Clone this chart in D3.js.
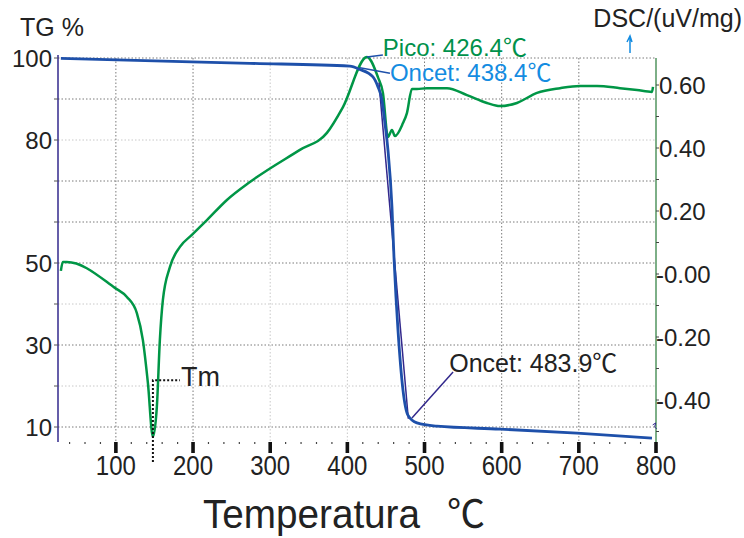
<!DOCTYPE html>
<html>
<head>
<meta charset="utf-8">
<script src="https://cdn.jsdelivr.net/npm/d3@7"></script>
<style>
  body { margin: 0; background: #fff; }
  svg { display: block; font-family: "Liberation Sans", Arial, sans-serif; }
</style>
</head>
<body>
<div class="usable"></div>
<script>
// ticks del eje x
const ticksTemp = [100, 200, 300, 400, 500, 600, 700, 800]
const ticksTG = [100, 80, 50, 30, 10]
const ticksDSC = [0.6, 0.4, 0.2, 0, -0.2, -0.4]
const etiquetasDSC = ["0.60", "0.40", "0.20", "-0.00", "-0.20", "-0.40"]

// curva TG (masa %)
const tgTemp = [28.7, 150, 273.7, 403.3, 416.3, 433.2, 439.6, 444.8, 448.7, 452.6, 457.8, 460.4, 463.0, 465.6, 472.1, 478.5, 490.2, 516.1, 597.8, 697.6, 794.8]
const tgValor = [99.9, 99.3, 98.7, 98.0, 97.2, 95.4, 93.0, 89.8, 84.1, 77.6, 63.7, 51.5, 41.7, 33.7, 19.0, 12.9, 11.0, 10.2, 9.5, 8.5, 7.3]

// curva DSC (uV/mg)
const dscTemp = [28.7, 31.3, 36.5, 98.7, 114.3, 127.2, 135.0, 141.5, 148.0, 153.1, 157.0, 160.9, 170.0, 183.0, 198.5, 218.0, 243.9, 273.7, 338.5, 373.5, 394.3, 425.4, 439.6, 446.1, 452.6, 457.8, 461.7, 472.1, 477.2, 483.7, 490.2, 503.2, 529.1, 555.0, 580.9, 597.8, 619.8, 645.8, 675.6, 701.5, 723.5, 753.4, 775.4, 794.8, 796.1]
const dscValor = [0.010, 0.038, 0.038, -0.044, -0.073, -0.124, -0.210, -0.346, -0.517, -0.422, -0.210, -0.083, 0.022, 0.086, 0.124, 0.171, 0.235, 0.292, 0.394, 0.448, 0.530, 0.689, 0.625, 0.575, 0.435, 0.457, 0.438, 0.479, 0.511, 0.587, 0.587, 0.590, 0.590, 0.568, 0.543, 0.533, 0.543, 0.575, 0.590, 0.597, 0.597, 0.590, 0.584, 0.578, 0.594]

// tangente del onset
const tangTemp = [441, 479]
const tangValor = [94, 12]

const width = 744,
  height = 538;

const verde = "rgb(0,150,70)"
const azul = "rgb(30,80,170)"
const celeste = "rgb(20,140,225)"
const navy = "rgb(50,40,140)"
const fuenteGrado = "'Noto Sans CJK SC', 'Noto Sans CJK JP', sans-serif"

let svg = d3.select(".usable").append("svg")
  .attr("width", width)
  .attr("height", height)

let x = d3.scaleLinear().domain([25, 800]).range([58, 656])
let yTG = d3.scaleLinear().domain([10, 100]).range([427, 58])
let yDSC = d3.scaleLinear().domain([-0.4, 0.6]).range([400, 85])

const arriba = 58, abajo = 441

// texto con el simbolo ℃ en fuente CJK
function textoGrado(xx, yy, txt, tam, color) {
  let t = svg.append("text").attr("x", xx).attr("y", yy)
    .attr("font-size", tam).attr("fill", color)
  t.append("tspan").text(txt)
  t.append("tspan").attr("font-family", fuenteGrado).text("℃")
  return t
}

// grilla horizontal (cada 10 %)
let grilla = svg.append("g")
d3.range(10, 101, 10).forEach(function (v) {
  let clara = (v == 20 || v == 40 || v == 80)
  grilla.append("line")
    .attr("x1", x(25)).attr("x2", x(800))
    .attr("y1", yTG(v)).attr("y2", yTG(v))
    .attr("stroke", clara ? "#c8c8c8" : "#7a7a7a")
    .attr("stroke-width", 1)
    .attr("stroke-dasharray", "1.5,2")
})
// grilla vertical
ticksTemp.slice(0, 7).forEach(function (t) {
  let clara = (t == 300 || t == 400)
  grilla.append("line")
    .attr("x1", x(t)).attr("x2", x(t))
    .attr("y1", arriba).attr("y2", abajo)
    .attr("stroke", clara ? "#c8c8c8" : "#7a7a7a")
    .attr("stroke-width", 1)
    .attr("stroke-dasharray", "1.5,2")
})

// eje izquierdo
svg.append("line")
  .attr("x1", x(25)).attr("x2", x(25))
  .attr("y1", 55).attr("y2", 442)
  .attr("stroke", navy).attr("stroke-width", 1.5)
d3.range(10, 101, 10).forEach(function (v) {
  svg.append("line")
    .attr("x1", x(25) - 4).attr("x2", x(25))
    .attr("y1", yTG(v)).attr("y2", yTG(v))
    .attr("stroke", "#555").attr("stroke-width", 1)
})
svg.append("g").selectAll("text").data(ticksTG).join("text")
  .attr("x", 52).attr("y", d => yTG(d) + 9)
  .attr("text-anchor", "end")
  .attr("font-size", 24).attr("fill", "#222")
  .text(d => d)

// eje derecho
svg.append("line")
  .attr("x1", x(800)).attr("x2", x(800))
  .attr("y1", 58).attr("y2", 452)
  .attr("stroke", "rgb(125,175,135)").attr("stroke-width", 2)
d3.range(-0.5, 0.61, 0.1).forEach(function (v) {
  svg.append("line")
    .attr("x1", x(800)).attr("x2", x(800) + 3)
    .attr("y1", yDSC(v)).attr("y2", yDSC(v))
    .attr("stroke", "#444").attr("stroke-width", 1)
})
svg.append("g").selectAll("text").data(ticksDSC).join("text")
  .attr("x", (d, i) => etiquetasDSC[i][0] == "-" ? 656 : 659)
  .attr("y", d => yDSC(d) + 9)
  .attr("font-size", 24).attr("fill", "#222")
  .text((d, i) => etiquetasDSC[i])

// eje x: ticks gruesos, puntos menores, etiquetas
d3.range(40, 800, 20).filter(t => t % 100 != 0).forEach(function (t) {
  svg.append("line")
    .attr("x1", x(t)).attr("x2", x(t))
    .attr("y1", 442).attr("y2", 444)
    .attr("stroke", "#444").attr("stroke-width", 1.2)
})
svg.append("g").selectAll("rect").data(ticksTemp).join("rect")
  .attr("x", d => x(d) - 1.8).attr("y", 442)
  .attr("width", 3.6).attr("height", 11)
  .attr("fill", "#111")
svg.append("g").selectAll("text").data(ticksTemp).join("text")
  .attr("x", d => x(d)).attr("y", 475)
  .attr("text-anchor", "middle")
  .attr("font-size", 28).attr("fill", "#222")
  .attr("textLength", 40).attr("lengthAdjust", "spacingAndGlyphs")
  .text(d => d)

// titulos
svg.append("text").attr("x", 20).attr("y", 36)
  .attr("font-size", 25).attr("fill", "#222").text("TG %")
svg.append("text").attr("x", 742).attr("y", 27)
  .attr("text-anchor", "end")
  .attr("font-size", 25).attr("fill", "#222").text("DSC/(uV/mg)")
svg.append("text").attr("x", 203).attr("y", 528)
  .attr("font-size", 40).attr("fill", "#222")
  .attr("textLength", 217).attr("lengthAdjust", "spacingAndGlyphs")
  .text("Temperatura")
svg.append("text").attr("x", 447).attr("y", 527)
  .attr("font-size", 38).attr("fill", "#222")
  .attr("font-family", fuenteGrado).text("℃")

// flechita azul junto a DSC
svg.append("path")
  .attr("d", "M630,53 L630,38 M627,42 L630,36 L632,42")
  .attr("stroke", celeste).attr("stroke-width", 1.5).attr("fill", "none")

// curvas
let lineaTG = d3.line().x(d => x(d[0])).y(d => yTG(d[1])).curve(d3.curveMonotoneX)
let lineaDSC = d3.line().x(d => x(d[0])).y(d => yDSC(d[1])).curve(d3.curveMonotoneX)

svg.append("path")
  .datum(dscTemp.map((t, i) => [t, dscValor[i]]))
  .attr("d", lineaDSC)
  .attr("fill", "none").attr("stroke", verde).attr("stroke-width", 2.5)

svg.append("path")
  .datum(tangTemp.map((t, i) => [t, tangValor[i]]))
  .attr("d", d3.line().x(d => x(d[0])).y(d => yTG(d[1])))
  .attr("fill", "none").attr("stroke", navy).attr("stroke-width", 1.5)

svg.append("path")
  .datum(tgTemp.map((t, i) => [t, tgValor[i]]))
  .attr("d", lineaTG)
  .attr("fill", "none").attr("stroke", azul).attr("stroke-width", 2.8)

// marca final de curvas
svg.append("path")
  .attr("d", "M" + (x(797) - 1) + "," + yTG(10.5) + " l3,-2 l-1,4 l2,2")
  .attr("stroke", navy).attr("stroke-width", 1).attr("fill", "none")

// anotacion Tm
let tmX = x(148)
svg.append("path")
  .attr("d", "M" + tmX + "," + 462 + " L" + tmX + "," + yTG(21.4) + " L" + (tmX + 27) + "," + yTG(21.4))
  .attr("stroke", "#111").attr("stroke-width", 2)
  .attr("stroke-dasharray", "2,2").attr("fill", "none")
svg.append("text").attr("x", tmX + 28).attr("y", yTG(21.4) + 6)
  .attr("font-size", 27).attr("fill", "#222").text("Tm")

// anotacion Pico
let picoX = x(425.4), picoY = yDSC(0.689)
svg.append("line")
  .attr("x1", picoX).attr("y1", picoY)
  .attr("x2", x(446)).attr("y2", picoY - 2)
  .attr("stroke", azul).attr("stroke-width", 1.5)
textoGrado(x(446), picoY - 1, "Pico: 426.4", 24, "rgb(0,145,75)")

// anotacion Oncet 438.4
svg.append("line")
  .attr("x1", x(416.3)).attr("y1", yTG(97.6))
  .attr("x2", x(455.2)).attr("y2", yTG(96.3))
  .attr("stroke", azul).attr("stroke-width", 1.5)
textoGrado(x(455.2), yTG(96.3) + 8, "Oncet: 438.4", 24, celeste)

// anotacion Oncet 483.9
svg.append("line")
  .attr("x1", x(483.7)).attr("y1", yTG(12.2))
  .attr("x2", x(537)).attr("y2", yTG(23.4))
  .attr("stroke", navy).attr("stroke-width", 1.5)
textoGrado(x(532), yTG(23.4), "Oncet: 483.9", 25, "#222")
</script>
</body>
</html>
